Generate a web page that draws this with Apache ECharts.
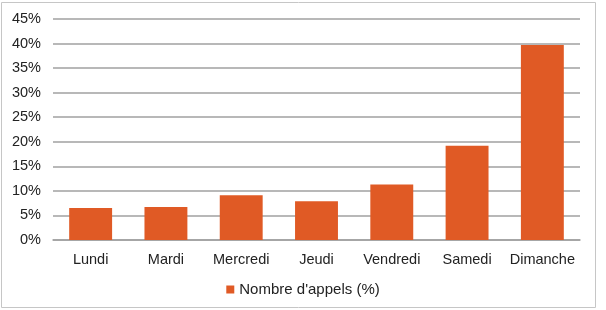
<!DOCTYPE html>
<html>
<head>
<meta charset="utf-8">
<script src="https://cdn.jsdelivr.net/npm/echarts@6/dist/echarts.min.js"></script>
<style>html,body{margin:0;padding:0;background:#fff}#c{width:606px;height:310px}</style>
</head>
<body>
<div id="c"></div>
<script>
const categories = ['Lundi','Mardi','Mercredi','Jeudi','Vendredi','Samedi','Dimanche'];
const appels = [6.5, 6.7, 9.1, 7.9, 11.3, 19.2, 39.7];
const seriesName = "Nombre d'appels (%)";

const chart = echarts.init(document.getElementById('c'), null, {renderer:'canvas'});
chart.setOption({
  animation: false,
  textStyle: {fontFamily: 'Liberation Sans, Arial, sans-serif'},
  graphic: [{type:'rect', shape:{x:1.5, y:2.5, width:594, height:305}, style:{fill:'none', stroke:'#c6c6c6', lineWidth:1}, silent:true}],
  grid: {left:53, right:26, top:19, bottom:70, containLabel:false},
  legend: {
    data:[seriesName], bottom:8, left:'center', itemWidth:8, itemHeight:8, itemGap:4,
    icon:'rect', textStyle:{fontSize:15, color:'#222', fontFamily:'Liberation Sans, Arial, sans-serif'}
  },
  xAxis: {
    type:'category', data:categories,
    axisLine:{lineStyle:{color:'#a0a0a0', width:1.5}}, axisTick:{show:false},
    axisLabel:{fontSize:14.5, color:'#222', margin:12, interval:0}
  },
  yAxis: {
    type:'value', min:0, max:45, interval:5,
    axisLabel:{formatter:'{value}%', fontSize:14.5, color:'#222', margin:12},
    axisLine:{show:false}, axisTick:{show:false},
    splitLine:{lineStyle:{color:'#a0a0a0', width:1.5}}
  },
  series: [{
    name: seriesName, type:'bar', data: appels, barCategoryGap:'43%',
    itemStyle:{color:'#e05a25'}
  }]
});
</script>
</body>
</html>
